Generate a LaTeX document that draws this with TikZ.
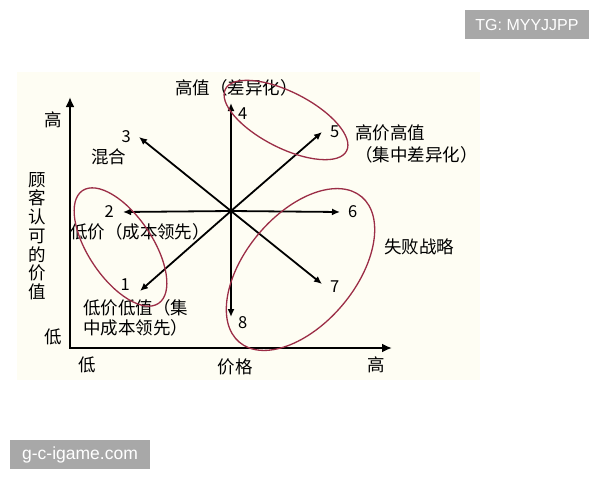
\documentclass[tikz,border=0pt]{standalone}
\usepackage{fontspec}
\setmainfont{Noto Sans CJK SC}
\newfontfamily\wmfont{Liberation Sans}
\usetikzlibrary{positioning, arrows.meta, shapes.geometric}
\definecolor{ringred}{RGB}{155,45,70}
\definecolor{paper}{RGB}{254,253,243}
\definecolor{wmgray}{RGB}{168,168,168}

\begin{document}
\begin{tikzpicture}[
    x=1pt, y=-1pt,
    lbl/.style={font=\fontsize{17.5}{20}\selectfont, inner sep=0pt},
    num/.style={font=\fontsize{16.5}{18}\selectfont, inner sep=0pt},
    axis/.style={line width=2.4pt, line join=miter},
    ray/.style={line width=1.8pt, -{Latex[length=8pt, width=7pt]}},
    ring/.style={ellipse, draw=ringred, line width=1.3pt, inner sep=0pt},
    wmbox/.style={fill=wmgray, text=white, font=\wmfont\fontsize{16}{18}\selectfont, minimum height=29pt, inner sep=0pt}
]
\useasboundingbox (0,0) rectangle (600,480);
\fill[paper] (17,72) rectangle (480,380);

% Axes
\coordinate (orig) at (70,348);
\coordinate (ytip) at (70,97);
\coordinate (xtip) at (392,348);
\draw[axis, {Latex[length=10pt, width=9pt]}-{Latex[length=10pt, width=9pt]}] (ytip) -- (orig) -- (xtip);

% Strategy rays
\coordinate (ctr) at (231,211);
\coordinate (t1) at (140,291);
\coordinate (t2) at (123,212);
\coordinate (t3) at (139,137);
\coordinate (t4) at (231,103);
\coordinate (t5) at (322,132);
\coordinate (t6) at (340,212);
\coordinate (t7) at (322,284);
\coordinate (t8) at (231,317);
\foreach \i in {1,...,8}
    \draw[ray] (ctr) -- (t\i);

% Numbers
\node[num, left=10pt of t1, yshift=6pt] (n1) {1};
\node[num, left=9pt of t2] (n2) {2};
\node[num, left=8pt of t3] (n3) {3};
\node[num, right=7pt of t4, yshift=-11pt] (n4) {4};
\node[num, right=8pt of t5] (n5) {5};
\node[num, right=8pt of t6] (n6) {6};
\node[num, right=8pt of t7, yshift=-3pt] (n7) {7};
\node[num, right=7pt of t8, yshift=-6pt] (n8) {8};

% Labels
\node[lbl] (hival) at (236.5,88) {高值（差异化）};
\node[lbl, align=left, anchor=west, font=\fontsize{17.5}{22}\selectfont] (hihi) at (355,144) {高价高值\\（集中差异化）};
\node[lbl] (mix) at (108.5,157) {混合};
\node[lbl] (lowp) at (140,232) {低价（成本领先）};
\node[lbl, align=left, anchor=west] (lowlow) at (83,318) {低价低值（集\\中成本领先）};
\node[lbl] (fail) at (419,247) {失败战略};

% Axis labels
\node[lbl] (price) at (235,367) {价格};
\node[lbl] (xlow) at (87,365) {低};
\node[lbl] (xhigh) at (376,365) {高};
\node[lbl] (ylow) at (53,337) {低};
\node[lbl] (yhigh) at (53,120) {高};
\node[lbl, align=center, font=\fontsize{17.5}{18.7}\selectfont] (yname) at (37,236) {顾\\客\\认\\可\\的\\价\\值};

% Groups
\node[ring, minimum width=136pt, minimum height=56pt, rotate=-27] (g45) at (286,120) {};
\node[ring, minimum width=136pt, minimum height=64pt, rotate=-56] (g12) at (120.5,247) {};
\node[ring, minimum width=190pt, minimum height=110pt, rotate=50] (g678) at (300.5,269.5) {};

% Watermarks
\node[wmbox, minimum width=124pt] (tg) at (527,24.5) {TG: MYYJJPP};
\node[wmbox, minimum width=140pt, font=\wmfont\fontsize{17.5}{18}\selectfont] (site) at (80,454.5) {g-c-igame.com};
\end{tikzpicture}
\end{document}
